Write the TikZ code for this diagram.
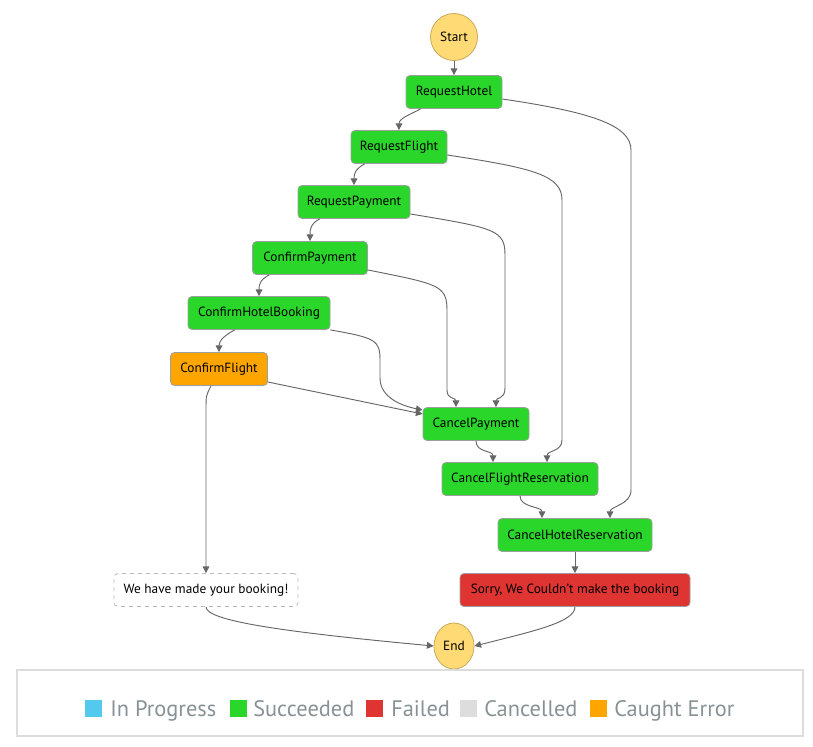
\documentclass[tikz,border=0pt]{standalone}
\usepackage{fontspec}
\setmainfont{PT Sans}
\usetikzlibrary{arrows.meta,calc,shapes.geometric}
\definecolor{okgreen}{HTML}{2BD62B}
\definecolor{failred}{HTML}{DE3432}
\definecolor{caught}{HTML}{FFA500}
\definecolor{progress}{HTML}{53C9ED}
\definecolor{cancelled}{HTML}{DDDDDD}
\definecolor{termfill}{HTML}{FFDA75}
\definecolor{termline}{HTML}{C9A95A}
\definecolor{boxline}{HTML}{9E9E9E}
\definecolor{edgegray}{HTML}{666666}
\definecolor{legendtext}{HTML}{879196}
\definecolor{legendline}{HTML}{DDDDDD}
\begin{document}
\begin{tikzpicture}[x=0.75pt,y=-0.75pt,
  state/.style={draw=boxline, line width=0.6pt, rounded corners=3pt,
    minimum height=24.75pt, inner sep=0pt, font=\fontsize{10}{12}\selectfont, text=black},
  ok/.style={state, fill=okgreen},
  term/.style={draw=termline, line width=0.6pt, fill=termfill, inner sep=0pt,
    font=\fontsize{10}{12}\selectfont},
  edge/.style={draw=edgegray, line width=0.7pt, -{Triangle[length=5pt,width=5pt]}},
  swatch/.style={minimum size=12.75pt, inner sep=0pt},
  legendlabel/.style={anchor=base west, inner sep=0pt, text=legendtext,
    font=\fontsize{16.8}{19}\selectfont}
]
\useasboundingbox (0,0) rectangle (813,746);

% states
\node[term, circle, minimum size=35.25pt] (start) at (454,37) {Start};
\node[ok, minimum width=96*.75pt] (rh) at (454,92) {RequestHotel};
\node[ok, minimum width=96*.75pt] (rf) at (399,147) {RequestFlight};
\node[ok, minimum width=112*.75pt] (rp) at (354,202) {RequestPayment};
\node[ok, minimum width=115*.75pt] (cpay) at (310,258) {ConfirmPayment};
\node[ok, minimum width=142*.75pt] (chb) at (259,313) {ConfirmHotelBooking};
\node[state, fill=caught, minimum width=97*.75pt] (cf) at (219,369) {ConfirmFlight};
\node[ok, minimum width=106*.75pt] (cp) at (476,424) {CancelPayment};
\node[ok, minimum width=156*.75pt] (cfr) at (520,479) {CancelFlightReservation};
\node[ok, minimum width=154*.75pt] (chr) at (575,535) {CancelHotelReservation};
\node[state, draw=boxline!70, dashed, fill=white, minimum width=184*.75pt] (wm) at (206,590) {We have made your booking!};
\node[state, fill=failred, minimum width=230*.75pt] (sorry) at (575,590) {Sorry, We Couldn't make the booking};
\node[term, ellipse, minimum width=30pt, minimum height=34.5pt] (end) at (454,646) {End};

% transitions
\draw[edge] (start) -- (rh);
\draw[edge] ($(rh.south west)+(15,0)$) .. controls +(-9,5) and +(0,-12) .. (rf.north);
\draw[edge] ($(rh.east)+(0,7)$) .. controls +(88,13) and +(0,-25) .. (631,150)
  -- (631,490) .. controls +(0,15) and +(0,-12) .. ($(chr.north)+(35,0)$);
\draw[edge] ($(rf.south west)+(14,0)$) .. controls +(-9,5) and +(0,-12) .. (rp.north);
\draw[edge] ($(rf.east)+(0,8)$) .. controls +(85,13) and +(0,-25) .. (562,200)
  -- (562,440) .. controls +(0,12) and +(0,-12) .. ($(cfr.north)+(27,0)$);
\draw[edge] ($(rp.south west)+(22,0)$) .. controls +(-9,5) and +(0,-12) .. (cpay.north);
\draw[edge] ($(rp.east)+(0,12)$) .. controls +(85,14) and +(0,-25) .. (505,255)
  -- (505,388) .. controls +(0,12) and +(0,-10) .. ($(cp.north)+(20,0)$);
\draw[edge] ($(cpay.south west)+(17,0)$) .. controls +(-9,5) and +(0,-12) .. (chb.north);
\draw[edge] ($(cpay.east)+(0,12)$) .. controls +(70,14) and +(0,-25) .. (447,310)
  -- (447,390) .. controls +(0,10) and +(0,-10) .. ($(cp.north)+(-20,0)$);
\draw[edge] ($(chb.south west)+(47,0)$) .. controls +(-9,5) and +(0,-12) .. (cf.north);
\draw[edge] (chb.south east) .. controls +(45,8) and +(0,-20) .. (380,360)
  -- (380,378) .. controls +(0,20) and +(-20,-4) .. ($(cp.west)+(0,-14)$);
\draw[edge] ($(cf.east)+(0,13)$) -- ($(cp.west)+(0,-10)$);
\draw[edge] ($(cf.south)+(-8,0)$) .. controls +(-5,10) and +(0,-15) .. (206,410) -- (wm.north);
\draw[edge] (cp.south) .. controls +(0,12) and +(0,-12) .. ($(cfr.north)+(-27,0)$);
\draw[edge] (cfr.south) .. controls +(0,12) and +(0,-12) .. ($(chr.north)+(-33,0)$);
\draw[edge] (chr) -- (sorry);
\draw[edge] (wm.south) .. controls +(0,14) and +(-150,-14) .. (end.west);
\draw[edge] (sorry.south) .. controls +(0,15) and +(60,-15) .. (end.east);

% legend
\draw[draw=legendline, line width=0.8pt] (17,670) rectangle (803,736);
\node[swatch, fill=progress] (lp) at (93.5,708.5) {};
\node[legendlabel] at (110,716) {In Progress};
\node[swatch, fill=okgreen] (ls) at (238.5,708.5) {};
\node[legendlabel] at (253,716) {Succeeded};
\node[swatch, fill=failred] (lf) at (374.5,708.5) {};
\node[legendlabel] at (391,716) {Failed};
\node[swatch, fill=cancelled] (lc) at (468.5,708.5) {};
\node[legendlabel] at (484,716) {Cancelled};
\node[swatch, fill=caught] (le) at (598.5,708.5) {};
\node[legendlabel] at (614,716) {Caught Error};
\end{tikzpicture}
\end{document}
